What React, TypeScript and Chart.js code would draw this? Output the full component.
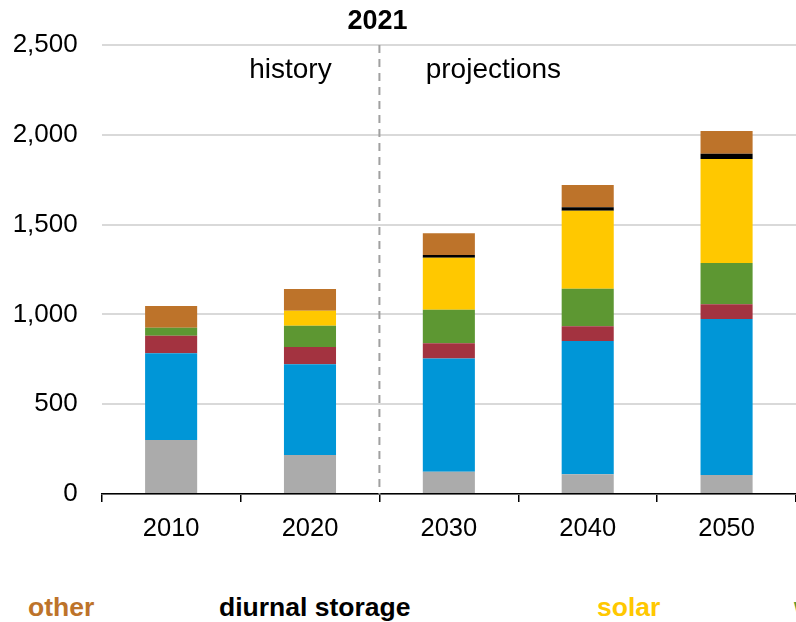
import React, { useEffect, useRef } from "react";
import { Chart, registerables } from "chart.js";

Chart.register(...registerables);

const years = ["2010", "2020", "2030", "2040", "2050"];
const coal = [300, 217, 124, 110, 106];
const naturalGas = [483, 505, 631, 742, 868];
const nuclear = [98, 96, 84, 82, 82];
const wind = [45, 119, 187, 209, 230];
const solar = [0, 84, 290, 434, 579];
const diurnalStorage = [0, 0, 15, 19, 30];
const other = [121, 121, 121, 124, 126];
const yTicks = [0, 500, 1000, 1500, 2000, 2500];

const legendItems = [
  { label: "other", color: "#bd732a", left: 28 },
  { label: "diurnal storage", color: "#000000", left: 219 },
  { label: "solar", color: "#ffc800", left: 597 },
  { label: "wind", color: "#5d9732", left: 794 },
];

const FONT = "'Liberation Sans', Arial, Helvetica, sans-serif";

const dividerPlugin = {
  id: "divider",
  afterDatasetsDraw(chart: any) {
    const { ctx, chartArea, scales } = chart;
    const xs = scales.x;
    const x = (xs.getPixelForValue(1) + xs.getPixelForValue(2)) / 2;
    ctx.save();
    ctx.strokeStyle = "#a0a0a0";
    ctx.lineWidth = 2;
    ctx.setLineDash([8, 6]);
    ctx.beginPath();
    ctx.moveTo(x, chartArea.top);
    ctx.lineTo(x, chartArea.bottom);
    ctx.stroke();
    ctx.setLineDash([]);
    ctx.fillStyle = "#000";
    ctx.textAlign = "center";
    ctx.textBaseline = "middle";
    ctx.font = `bold 27px ${FONT}`;
    ctx.fillText("2021", x - 2, 22);
    ctx.font = `28px ${FONT}`;
    ctx.fillText("history", x - 89, 70);
    ctx.fillText("projections", x + 114, 70);
    ctx.restore();
  },
};

export default function App() {
  const ref = useRef<HTMLCanvasElement | null>(null);

  useEffect(() => {
    document.body.style.margin = "0";
    const canvas = ref.current;
    if (!canvas) return;
    const mk = (label: string, data: number[], color: string) => ({
      label,
      data,
      backgroundColor: color,
      borderWidth: 0,
      barPercentage: 0.75,
      categoryPercentage: 0.5,
    });
    const chart = new Chart(canvas, {
      type: "bar",
      data: {
        labels: years,
        datasets: [
          mk("coal", coal, "#ababab"),
          mk("natural gas", naturalGas, "#0096d7"),
          mk("nuclear", nuclear, "#a33340"),
          mk("wind", wind, "#5d9732"),
          mk("solar", solar, "#ffc800"),
          mk("diurnal storage", diurnalStorage, "#000000"),
          mk("other", other, "#bd732a"),
        ],
      },
      options: {
        responsive: false,
        maintainAspectRatio: false,
        animation: false,
        layout: { padding: { top: 45, left: 0, right: 0, bottom: 0 } },
        plugins: {
          legend: { display: false },
          tooltip: { enabled: false },
          title: { display: false },
        },
        scales: {
          x: {
            stacked: true,
            afterFit: (s: any) => {
              s.height = 66;
            },
            grid: {
              display: true,
              drawOnChartArea: false,
              drawTicks: true,
              tickLength: 8,
              color: "#000",
              lineWidth: 1.5,
              offset: true,
            },
            border: { display: true, color: "#000", width: 1.5 },
            ticks: {
              color: "#000",
              font: { family: FONT, size: 25.5 },
              padding: 12,
              maxRotation: 0,
            },
          },
          y: {
            stacked: true,
            min: 0,
            max: 2500,
            afterFit: (s: any) => {
              s.width = 101.7;
            },
            afterBuildTicks: (s: any) => {
              s.ticks = yTicks.map((v) => ({ value: v }));
            },
            grid: {
              color: "#d9d9d9",
              lineWidth: 2,
              drawTicks: false,
            },
            border: { display: false },
            ticks: {
              color: "#000",
              font: { family: FONT, size: 26 },
              padding: 24,
              callback: (v: any) => Number(v).toLocaleString("en-US"),
            },
          },
        },
      },
      plugins: [dividerPlugin],
    });
    return () => chart.destroy();
  }, []);

  return (
    <div
      style={{
        position: "relative",
        width: 796,
        height: 622,
        overflow: "hidden",
        background: "#fff",
      }}
    >
      <canvas
        ref={ref}
        width={796}
        height={560}
        style={{ position: "absolute", left: 0, top: 0, width: 796, height: 560 }}
      />
      {legendItems.map((it) => (
        <div
          key={it.label}
          style={{
            position: "absolute",
            left: it.left,
            top: 594,
            height: 27,
            lineHeight: "27px",
            fontFamily: FONT,
            fontWeight: "bold",
            fontSize: 26.5,
            color: it.color,
            whiteSpace: "nowrap",
          }}
        >
          {it.label}
        </div>
      ))}
    </div>
  );
}
